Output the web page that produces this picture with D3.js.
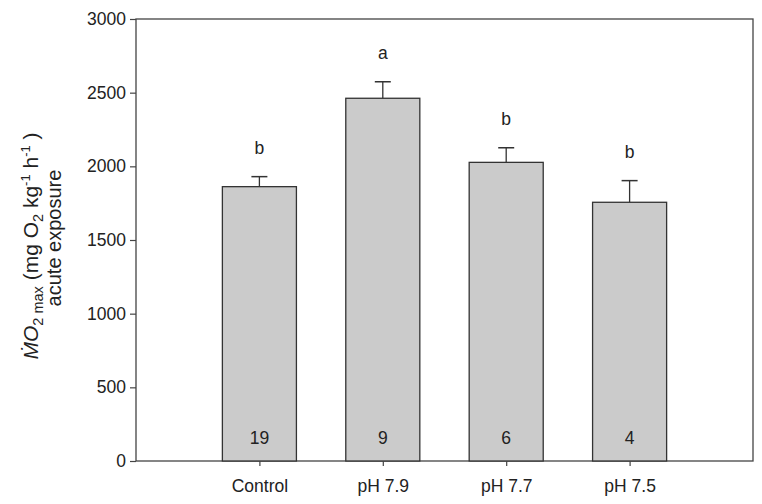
<!DOCTYPE html>
<html><head><meta charset="utf-8">
<script src="https://cdn.jsdelivr.net/npm/d3@7"></script>
<style>body{margin:0;background:#fff}text{font-family:"Liberation Sans",Arial,sans-serif;fill:#222}</style>
</head><body><svg id="c" width="762" height="504"></svg>
<script>
const categories = ["Control","pH 7.9","pH 7.7","pH 7.5"];
const means = [1862, 2462, 2027, 1756];
const errors = [68, 112, 99, 147];
const letters = ["b","a","b","b"];
const nLabels = ["19","9","6","4"];
const yTicks = [0,500,1000,1500,2000,2500,3000];

const svg = d3.select("#c");
const L=136, R=753, T=19, B=461;
const FS = 17.5;
const y = d3.scaleLinear().domain([0,3000]).range([B,T]);
const x = d3.scaleLinear().domain([0,categories.length+1]).range([L,R]);
const step = x(1)-x(0);
const bw = step*0.6;
const axisCol = "#444";

// frame
svg.append("rect").attr("x",L).attr("y",T).attr("width",R-L).attr("height",B-T)
  .attr("fill","none").attr("stroke",axisCol).attr("stroke-width",1.3);

// bars
const g = svg.append("g");
categories.forEach((c,i)=>{
  const cx = x(i+1);
  g.append("line").attr("x1",cx).attr("x2",cx).attr("y1",y(means[i])).attr("y2",y(means[i]+errors[i]))
    .attr("stroke","#333").attr("stroke-width",1.3);
  g.append("line").attr("x1",cx-8).attr("x2",cx+8).attr("y1",y(means[i]+errors[i])).attr("y2",y(means[i]+errors[i]))
    .attr("stroke","#333").attr("stroke-width",1.5);
  g.append("rect").attr("x",cx-bw/2).attr("y",y(means[i])).attr("width",bw).attr("height",y(0)-y(means[i]))
    .attr("fill","#cbcbcb").attr("stroke","#333").attr("stroke-width",1.3);
  g.append("text").attr("x",cx).attr("y",y(means[i]+errors[i])-23).attr("text-anchor","middle")
    .attr("font-size",FS).text(letters[i]);
  g.append("text").attr("x",cx).attr("y",444).attr("text-anchor","middle")
    .attr("font-size",FS).text(nLabels[i]);
});

// y axis
const ya = svg.append("g").attr("transform",`translate(${L},0)`)
  .call(d3.axisLeft(y).tickValues(yTicks).tickSize(6).tickPadding(4).tickFormat(d3.format("d")));
ya.select(".domain").remove();
ya.selectAll("line").attr("stroke",axisCol).attr("stroke-width",1.2);
ya.selectAll("text").attr("font-size",FS).attr("fill","#222").style("font-family","Liberation Sans, Arial, sans-serif");

// x axis
const xa = svg.append("g").attr("transform",`translate(0,${B})`)
  .call(d3.axisBottom(x).tickValues(categories.map((c,i)=>i+1)).tickSize(5).tickPadding(14)
    .tickFormat((d)=>categories[d-1]));
xa.select(".domain").remove();
xa.selectAll("line").attr("stroke",axisCol).attr("stroke-width",1.2);
xa.selectAll("text").attr("font-size",FS).attr("fill","#222").style("font-family","Liberation Sans, Arial, sans-serif");

// y label
const yl = svg.append("text").attr("transform","translate(38,246) rotate(-90)").attr("text-anchor","middle").attr("font-size",21);
yl.append("tspan").attr("font-style","italic").text("Ṁ");
yl.append("tspan").attr("font-style","italic").text("O");
yl.append("tspan").attr("font-size",14.5).attr("dy",5).text("2 max");
yl.append("tspan").attr("dy",-5).text(" (mg O");
yl.append("tspan").attr("font-size",14.5).attr("dy",5).text("2");
yl.append("tspan").attr("dy",-5).text(" kg");
yl.append("tspan").attr("font-size",13).attr("dy",-8).text("-1");
yl.append("tspan").attr("dy",8).text(" h");
yl.append("tspan").attr("font-size",13).attr("dy",-8).text("-1");
yl.append("tspan").attr("dy",8).text(" )");
svg.append("text").attr("transform","translate(61,238) rotate(-90)").attr("text-anchor","middle").attr("font-size",20).text("acute exposure");
</script></body></html>
